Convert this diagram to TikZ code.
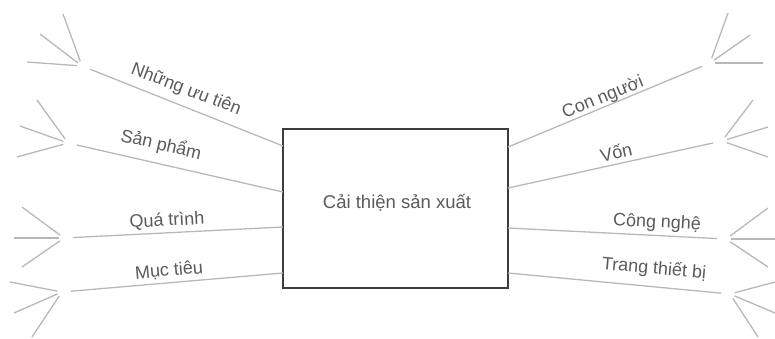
\documentclass[tikz,border=0pt]{standalone}
\usepackage{fontspec}
\setmainfont{Liberation Sans}
\definecolor{linegray}{HTML}{B8B8B8}
\definecolor{txtgray}{HTML}{5A5A5A}
\definecolor{boxgray}{HTML}{3C3C3C}
\begin{document}
\begin{tikzpicture}[x=1pt,y=-1pt,
  branch/.style={draw=linegray,line width=1.3pt,shorten <=9pt},
  spoke/.style={draw=linegray,line width=1.3pt,shorten <=5pt},
  lbl/.style={text=txtgray,font=\fontsize{18}{19}\selectfont,inner sep=0pt},
  mainbox/.style={draw=boxgray,line width=2.4pt,fill=white,minimum width=225pt,minimum height=159pt,inner sep=0pt,text=txtgray,font=\fontsize{18.5}{20}\selectfont}]
\useasboundingbox (0,0) rectangle (775,339);
\node[mainbox] (box) at (395.5,208.5) {};
\node[text=txtgray,font=\fontsize{18.5}{20}\selectfont,inner sep=0pt] (title) at (397,203) {Cải thiện sản xuất};
% box contact points
\coordinate (m1) at (283,146); \coordinate (m2) at (283,192);
\coordinate (m3) at (283,227); \coordinate (m4) at (283,273);
\coordinate (m5) at (508,147); \coordinate (m6) at (508,188);
\coordinate (m7) at (508,228); \coordinate (m8) at (508,273);
% hubs
\coordinate (h1) at (82,66);  \coordinate (h2) at (68,143);
\coordinate (h3) at (64,238); \coordinate (h4) at (62,292);
\coordinate (h5) at (710,63); \coordinate (h6) at (722,141);
\coordinate (h7) at (726,239);\coordinate (h8) at (730,294);
% spoke ends
\coordinate (e1a) at (63,14);  \coordinate (e1b) at (40,34);  \coordinate (e1c) at (27,62);
\coordinate (e2a) at (37,100); \coordinate (e2b) at (20,126); \coordinate (e2c) at (17,157);
\coordinate (e3a) at (22,207); \coordinate (e3b) at (14,238); \coordinate (e3c) at (22,267);
\coordinate (e4a) at (10,282); \coordinate (e4b) at (14,313); \coordinate (e4c) at (32,337);
\coordinate (e5a) at (728,13); \coordinate (e5b) at (750,35); \coordinate (e5c) at (763,63);
\coordinate (e6a) at (753,100);\coordinate (e6b) at (768,127);\coordinate (e6c) at (768,157);
\coordinate (e7a) at (768,208);\coordinate (e7b) at (775,239);\coordinate (e7c) at (768,267);
\coordinate (e8a) at (775,282);\coordinate (e8b) at (775,313);\coordinate (e8c) at (758,337);
% main branches
\foreach \i in {1,...,8} {\draw[branch] (h\i) -- (m\i);}
% spokes
\foreach \i in {1,...,8} {\foreach \j in {a,b,c} {\draw[spoke] (h\i) -- (e\i\j);}}
% labels
\node[lbl,rotate=-21] (l1) at (186,90) {Những ưu tiên};
\node[lbl,rotate=-13] (l2) at (161,145) {Sản phẩm};
\node[lbl,rotate=3] (l3) at (167,221) {Quá trình};
\node[lbl,rotate=5] (l4) at (169,271) {Mục tiêu};
\node[lbl,rotate=22] (l5) at (603,98) {Con người};
\node[lbl,rotate=12.5] (l6) at (616,152) {Vốn};
\node[lbl,rotate=-3] (l7) at (657,223) {Công nghệ};
\node[lbl,rotate=-5] (l8) at (654,269) {Trang thiết bị};
\end{tikzpicture}
\end{document}
